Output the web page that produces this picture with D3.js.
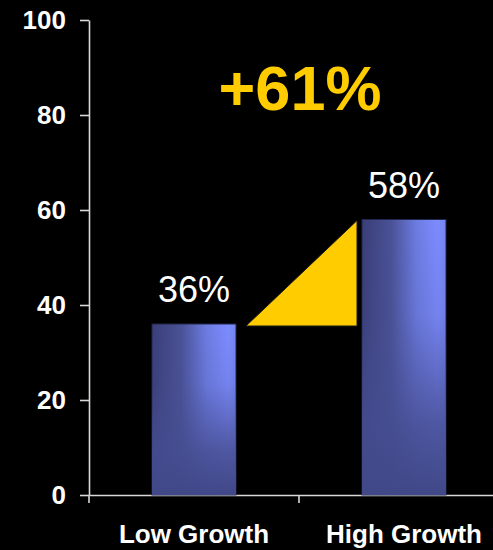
<!DOCTYPE html>
<html>
<head>
<meta charset="utf-8">
<script src="https://cdn.jsdelivr.net/npm/d3@7"></script>
<style>
  html, body { margin: 0; padding: 0; background: #000; }
  svg { display: block; }
</style>
</head>
<body>
<svg id="chart" width="493" height="550"></svg>
<script>
// data
const categories = ['Low Growth', 'High Growth'];
const values = [36, 58];
const valueLabels = ['36%', '58%'];
const yTicks = [0, 20, 40, 60, 80, 100];
const changeLabel = '+61%';

let width = 493;
let height = 550;

let svg = d3.select('#chart');

svg.append('rect')
    .attr('width', width)
    .attr('height', height)
    .attr('fill', '#000');

let x = d3.scaleBand()
    .domain(categories)
    .range([89, 509])
    .padding(0);

let y = d3.scaleLinear()
    .domain([0, 100])
    .range([495, 20]);

let barWidth = x.bandwidth() * 0.4;

// gradients for the bars
let defs = svg.append('defs');

let hGrad = defs.append('linearGradient')
    .attr('id', 'bar_h')
    .attr('x1', '0%').attr('y1', '0%')
    .attr('x2', '100%').attr('y2', '0%');
hGrad.append('stop').attr('offset', '0%').attr('stop-color', '#3a3e78');
hGrad.append('stop').attr('offset', '35%').attr('stop-color', '#4a5296');
hGrad.append('stop').attr('offset', '65%').attr('stop-color', '#6d7ce2');
hGrad.append('stop').attr('offset', '90%').attr('stop-color', '#7c8cff');
hGrad.append('stop').attr('offset', '100%').attr('stop-color', '#7586f4');

let vGrad = defs.append('linearGradient')
    .attr('id', 'bar_v')
    .attr('x1', '0%').attr('y1', '0%')
    .attr('x2', '0%').attr('y2', '100%');
vGrad.append('stop').attr('offset', '0%').attr('stop-color', '#464e92').attr('stop-opacity', 0);
vGrad.append('stop').attr('offset', '35%').attr('stop-color', '#464e92').attr('stop-opacity', 0.15);
vGrad.append('stop').attr('offset', '75%').attr('stop-color', '#454d90').attr('stop-opacity', 0.85);
vGrad.append('stop').attr('offset', '100%').attr('stop-color', '#414888').attr('stop-opacity', 1);

// axes
let yAxis = d3.axisLeft(y)
    .tickValues(yTicks)
    .tickSize(9)
    .tickSizeOuter(0)
    .tickPadding(14);

let yg = svg.append('g')
    .attr('transform', 'translate(89,0)')
    .call(yAxis);

let xAxis = d3.axisBottom(x)
    .tickSize(0)
    .tickSizeOuter(0)
    .tickPadding(29.5);

let xg = svg.append('g')
    .attr('transform', 'translate(0,' + y(0) + ')')
    .call(xAxis);

// ticks sit on the band edges, not the centres
xg.selectAll('.edge_tick')
    .data(categories)
    .join('line')
    .attr('class', 'edge_tick')
    .attr('x1', d => x(d))
    .attr('x2', d => x(d))
    .attr('y1', 0)
    .attr('y2', 8);

svg.selectAll('.domain, .tick line, .edge_tick')
    .attr('stroke', '#d8d8d8')
    .attr('stroke-width', 1.6);

svg.selectAll('.tick text')
    .attr('fill', '#fff')
    .attr('font-family', 'Liberation Sans, Arial, sans-serif')
    .attr('font-weight', 'bold')
    .attr('font-size', '26px');

// bars
let bars = svg.selectAll('.bar_g')
    .data(categories)
    .join('g')
    .attr('class', 'bar_g');

bars.append('rect')
    .attr('x', d => x(d) + (x.bandwidth() - barWidth) / 2)
    .attr('y', (d, i) => y(values[i]))
    .attr('width', barWidth)
    .attr('height', (d, i) => y(0) - y(values[i]))
    .attr('fill', 'url(#bar_h)')
    .attr('stroke', '#23264a')
    .attr('stroke-width', 1);

bars.append('rect')
    .attr('x', d => x(d) + (x.bandwidth() - barWidth) / 2)
    .attr('y', (d, i) => y(values[i]))
    .attr('width', barWidth)
    .attr('height', (d, i) => y(0) - y(values[i]))
    .attr('fill', 'url(#bar_v)');

bars.append('text')
    .attr('x', d => x(d) + x.bandwidth() / 2)
    .attr('y', (d, i) => y(values[i]) - 22)
    .attr('text-anchor', 'middle')
    .attr('fill', '#fff')
    .attr('font-family', 'Liberation Sans, Arial, sans-serif')
    .attr('font-size', '36px')
    .text((d, i) => valueLabels[i]);

// yellow step triangle between the bars
let leftX = x(categories[0]) + (x.bandwidth() + barWidth) / 2 + 10;
let rightX = x(categories[1]) + (x.bandwidth() - barWidth) / 2 - 5;
let tri = [
    [leftX, y(values[0]) + 2],
    [rightX, y(values[1]) + 1],
    [rightX, y(values[0]) + 2]
];

svg.append('path')
    .attr('d', d3.line()(tri) + 'Z')
    .attr('fill', '#ffcc00')
    .attr('stroke', '#1a1a1a')
    .attr('stroke-width', 1);

svg.append('text')
    .attr('x', 300)
    .attr('y', 110)
    .attr('text-anchor', 'middle')
    .attr('fill', '#ffcc00')
    .attr('font-family', 'Liberation Sans, Arial, sans-serif')
    .attr('font-weight', 'bold')
    .attr('font-size', '63px')
    .text(changeLabel);
</script>
</body>
</html>
